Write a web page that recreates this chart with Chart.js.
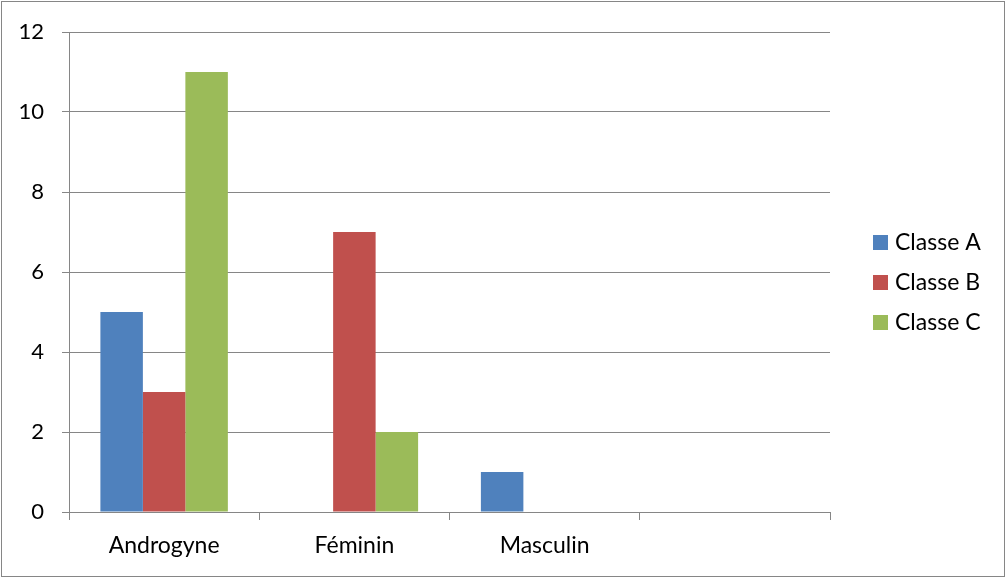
<!DOCTYPE html>
<html>
<head>
<meta charset="utf-8">
<script src="https://cdn.jsdelivr.net/npm/chart.js@4"></script>
<style>
  html, body { margin: 0; padding: 0; background: #fff; }
  #wrap { width: 1007px; height: 579px; }
</style>
</head>
<body>
<div id="wrap"><canvas id="barChart" width="1007" height="579"></canvas></div>
<script>
// données du graphique
const categories = ['Androgyne', 'Féminin', 'Masculin', ''];
const seriesNames = ['Classe A', 'Classe B', 'Classe C'];
const classeA = [5, 0, 1, 0];
const classeB = [3, 7, 0, 0];
const classeC = [11, 2, 0, 0];
const yTicks = [0, 2, 4, 6, 8, 10, 12];

const colors = ['#4F81BD', '#C0504D', '#9BBB59'];
const gridColor = '#868686';
const fontFamily = 'Lato, "Open Sans", sans-serif';

// cadre extérieur + légende à droite (style Excel)
const excelLook = {
    id: 'excelLook',
    beforeDraw(chart) {
        const ctx = chart.ctx;
        ctx.save();
        ctx.fillStyle = '#fff';
        ctx.fillRect(0, 0, chart.width, chart.height);
        ctx.strokeStyle = gridColor;
        ctx.lineWidth = 1;
        ctx.strokeRect(1.5, 1.5, 1003, 575);
        ctx.restore();
    },
    afterDraw(chart) {
        const ctx = chart.ctx;
        ctx.save();
        ctx.font = '23px ' + fontFamily;
        ctx.textBaseline = 'middle';
        chart.data.datasets.forEach(function(ds, i) {
            const y = 242 + i * 40;
            ctx.fillStyle = ds.backgroundColor;
            ctx.fillRect(873, y - 7, 15, 15);
            ctx.fillStyle = '#000';
            ctx.fillText(ds.label, 895, y + 1);
        });
        ctx.restore();
    }
};

const ctx = document.getElementById('barChart').getContext('2d');
new Chart(ctx, {
    type: 'bar',
    data: {
        labels: categories,
        datasets: [
            { label: seriesNames[0], data: classeA, backgroundColor: colors[0] },
            { label: seriesNames[1], data: classeB, backgroundColor: colors[1] },
            { label: seriesNames[2], data: classeC, backgroundColor: colors[2] }
        ]
    },
    options: {
        responsive: false,
        animation: false,
        devicePixelRatio: 1,
        layout: { padding: { top: 32, right: 177, left: 0, bottom: 0 } },
        datasets: { bar: { categoryPercentage: 0.67, barPercentage: 1.0 } },
        scales: {
            x: {
                grid: {
                    offset: true,
                    drawOnChartArea: false,
                    color: gridColor,
                    tickLength: 8
                },
                border: { color: gridColor },
                ticks: { color: '#000', font: { family: fontFamily, size: 23 }, padding: 12 },
                afterFit: function(scale) { scale.height = 67; }
            },
            y: {
                min: 0,
                max: 12,
                afterBuildTicks: function(scale) {
                    scale.ticks = yTicks.map(function(v) { return { value: v }; });
                },
                grid: { color: gridColor, tickLength: 7 },
                border: { color: gridColor },
                ticks: { color: '#000', font: { family: fontFamily, size: 22 }, padding: 18 },
                afterFit: function(scale) { scale.width = 69; }
            }
        },
        plugins: {
            legend: { display: false },
            tooltip: { enabled: false }
        }
    },
    plugins: [excelLook]
});
</script>
</body>
</html>
